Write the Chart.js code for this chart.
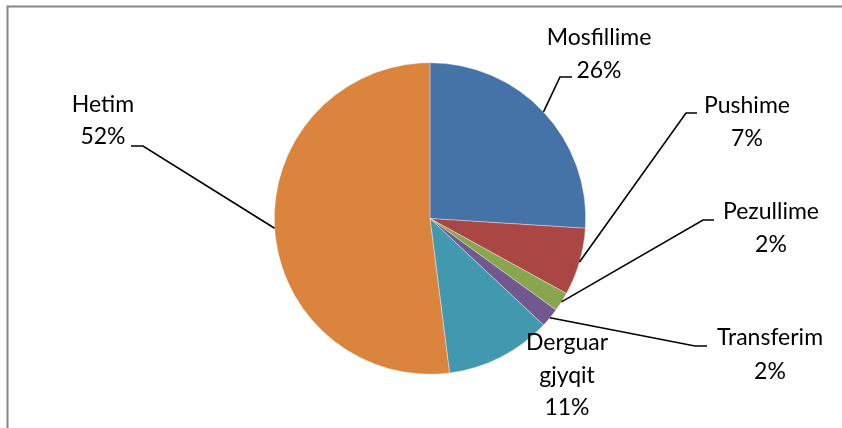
<!DOCTYPE html>
<html>
<head>
<meta charset="utf-8">
<script src="https://cdn.jsdelivr.net/npm/chart.js@4.4.1/dist/chart.umd.min.js"></script>
<style>
html,body{margin:0;padding:0;background:#fff;}
#chart{display:block;}
</style>
</head>
<body>
<canvas id="chart" width="842" height="428"></canvas>
<script>

/* DATA */

let categories = ["Mosfillime","Pushime","Pezullime","Transferim","Derguar gjyqit","Hetim"];
let values = [26,7,2,2,11,52];
let colors = ["#4572A7","#AA4643","#89A54E","#71588F","#4198AF","#DB843D"];


/* LABEL LAYOUT (text centre, elbow of leader line, end of leader) */

let labelLayout = [
{lines:["Mosfillime","26%"], x:599, y:[38,71], elbow:[560,77], end:[572,77]},
{lines:["Pushime","7%"], x:747, y:[106,139], elbow:[686,113], end:[697,113]},
{lines:["Pezullime","2%"], x:771, y:[212,245], elbow:[703,220], end:[714,220]},
{lines:["Transferim","2%"], x:770, y:[338,372], elbow:[695,346], end:[707,346]},
{lines:["Derguar","gjyqit","11%"], x:567, y:[343,376,408], elbow:null},
{lines:["Hetim","52%"], x:103, y:[105,137], elbow:[143,146], end:[131,146]}
];


/* PLUGINS */

const frame = {
id:"frame",
beforeDraw(c){
let ctx = c.ctx;
ctx.save();
ctx.strokeStyle = "#868686";
ctx.lineWidth = 2;
ctx.beginPath();
ctx.moveTo(7.5,440);
ctx.lineTo(7.5,6.5);
ctx.lineTo(850,6.5);
ctx.stroke();
ctx.restore();
}
};

const labels = {
id:"labels",
afterDraw(c){
let ctx = c.ctx;
let arcs = c.getDatasetMeta(0).data;
ctx.save();
ctx.font = "23px Lato";
ctx.fillStyle = "#000";
ctx.textAlign = "center";
ctx.textBaseline = "middle";
ctx.strokeStyle = "#000";
ctx.lineWidth = 1.6;

labelLayout.forEach((l,i)=>{
l.lines.forEach((t,k)=>ctx.fillText(t, l.x, l.y[k]));
if(!l.elbow) return;
let a = arcs[i];
let mid = (a.startAngle + a.endAngle)/2;
let px = a.x + Math.cos(mid)*a.outerRadius;
let py = a.y + Math.sin(mid)*a.outerRadius;
ctx.beginPath();
ctx.moveTo(px,py);
ctx.lineTo(l.elbow[0],l.elbow[1]);
ctx.lineTo(l.end[0],l.end[1]);
ctx.stroke();
});

ctx.restore();
}
};


/* CHART */

new Chart(document.getElementById("chart"),{
type:"pie",
data:{
labels:categories,
datasets:[{
data:values,
backgroundColor:colors,
borderColor:"rgba(255,255,255,0.6)",
borderWidth:0.6
}]
},
options:{
responsive:false,
animation:false,
layout:{padding:{top:62,bottom:53,left:274,right:256}},
plugins:{legend:{display:false},tooltip:{enabled:false}}
},
plugins:[frame,labels]
});

</script>
</body>
</html>
